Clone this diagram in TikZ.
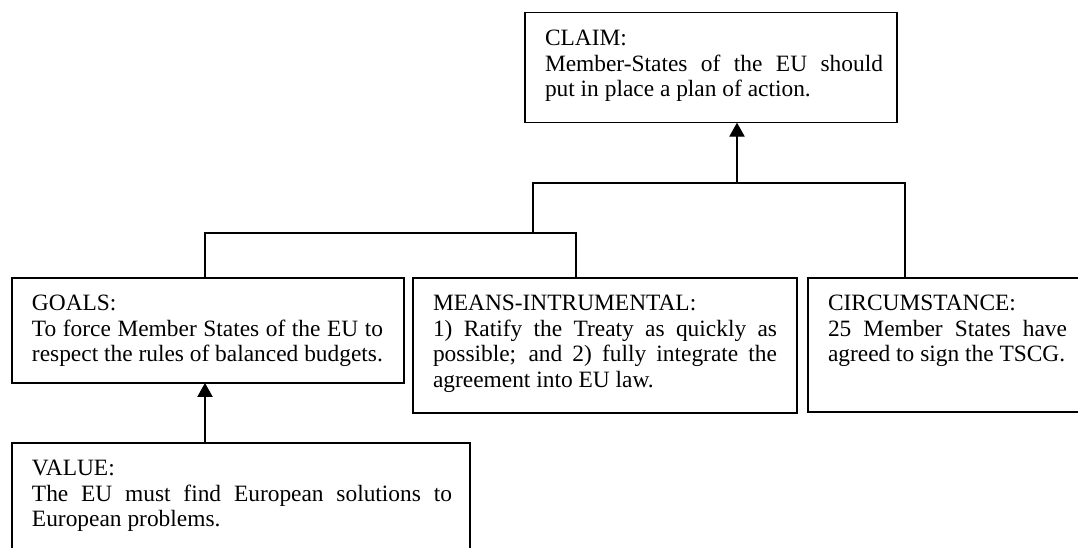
\documentclass[tikz,border=0pt]{standalone}
\usepackage{fontspec}
\setmainfont{Liberation Serif}
\usetikzlibrary{arrows.meta}
\newdimen\pxu \pxu=0.75pt
\newcommand{\jline}[1]{\makebox[\linewidth][s]{#1}\par}
\newcommand{\boxbody}[5]{\hspace*{#1\pxu}\begin{minipage}[c][#4\pxu][t]{#2\pxu}\fontsize{17.55pt}{19.1pt}\selectfont\parindent=0pt\rule{0pt}{33\pxu}#5\end{minipage}\hspace*{#3\pxu}}
\tikzset{
  argbox/.style={draw, line width=1pt, inner sep=0pt, outer sep=0pt, anchor=north west},
  link/.style={line width=1pt},
  arr/.style={line width=1pt, -{Triangle[width=11.5pt,length=10.5pt]}}
}
\begin{document}
\begin{tikzpicture}[x=0.75pt, y=-0.75pt]
\useasboundingbox (0,0) rectangle (1078,548);
\clip (0,0) rectangle (1078,548);
\node[argbox] (claim) at (525,12.7) {\boxbody{20}{338}{14}{110}{CLAIM:\par\jline{Member-States of the EU should}put in place a plan of action.}};
\node[argbox] (goals) at (12,278) {\boxbody{20}{351}{21}{105}{GOALS:\par\jline{To force Member States of the EU to}respect the rules of balanced budgets.}};
\node[argbox] (means) at (413,278) {\boxbody{20}{344}{20}{135}{MEANS-INTRUMENTAL:\par\jline{1) Ratify the Treaty as quickly as}\jline{possible; and 2) fully integrate the}agreement into EU law.}};
\node[argbox] (circ) at (808,278) {\boxbody{20}{239}{33}{134}{CIRCUMSTANCE:\par\jline{25 Member States have}agreed to sign the TSCG.}};
\node[argbox] (value) at (12,443) {\boxbody{20}{420}{18}{125}{VALUE:\par\jline{The EU must find European solutions to}European problems.}};
\coordinate (lb) at (205,233);
\coordinate (rb) at (576,233);
\coordinate (ul) at (533,183);
\coordinate (ur) at (905,183);
\coordinate (um) at (737,183);
\draw[link] (goals.north -| lb) -- (lb) -- (rb) -- (means.north -| rb);
\draw[link] (ul |- lb) -- (ul) -- (ur) -- (circ.north -| ur);
\draw[arr] (um) -- (claim.south -| um);
\draw[arr] (value.north -| lb) -- (goals.south -| lb);
\end{tikzpicture}
\end{document}
